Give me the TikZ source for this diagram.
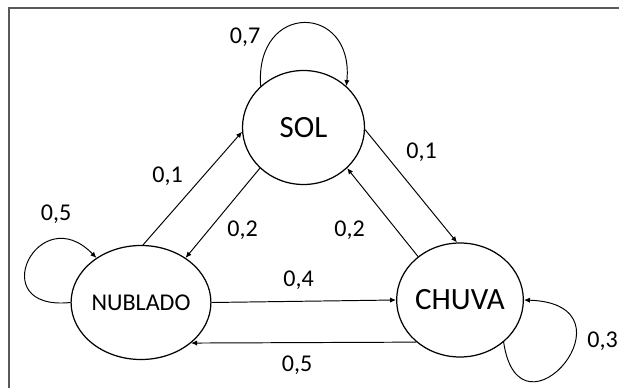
\documentclass[tikz,border=0pt]{standalone}
\usepackage{fontspec}
\setmainfont{Carlito}
\usetikzlibrary{arrows.meta,shapes.geometric}
\definecolor{moldura}{HTML}{595959}

\begin{document}
\begin{tikzpicture}[
  estado/.style={ellipse,draw,line width=0.7pt,minimum width=2.44cm,minimum height=2.28cm,inner sep=0pt},
  seta/.style={-{Latex[length=3.4pt,width=3pt]},line width=0.55pt},
  prob/.style={font=\fontsize{13.7}{16}\selectfont}]
\useasboundingbox (0,0) rectangle (12.38,7.76);
% frame (left and top only)
\draw[moldura,line width=1.1pt] (0.186,0) -- (0.186,7.606) -- (12.38,7.606);
% states
\node[estado,font=\fontsize{17.6}{20}\selectfont] (sol) at (6.07,5.21) {SOL};
\node[estado,font=\fontsize{13.7}{16}\selectfont] (nublado) at (2.82,1.71) {NUBLADO};
\node[estado,font=\fontsize{17.6}{20}\selectfont] (chuva) at (9.20,1.76) {CHUVA};
% transitions between states
\draw[seta] (nublado.88) -- (sol.184);
\draw[seta] (sol.223) -- (nublado.45);
\draw[seta] (sol.358) -- (chuva.93);
\draw[seta] (chuva.134) -- (sol.317);
\draw[seta] (nublado.0) -- (chuva.180);
\draw[seta] (chuva.224) -- (nublado.321);
% self loops
\draw[seta] (sol.136) .. controls +(-0.12,1.70) and +(0.16,1.66) .. (sol.44);
\draw[seta] (nublado.180) .. controls +(-1.76,-0.18) and +(-1.16,1.20) .. (nublado.135);
\draw[seta] (chuva.316) .. controls +(0.32,-2.16) and +(2.36,-0.08) .. (chuva.0);
% probabilities
\node[prob] (p-ss) at (4.90,7.02) {0,7};
\node[prob] (p-ns) at (3.35,4.24) {0,1};
\node[prob] (p-sn) at (4.85,3.15) {0,2};
\node[prob] (p-sc) at (8.43,4.71) {0,1};
\node[prob] (p-cs) at (6.99,3.16) {0,2};
\node[prob] (p-nn) at (1.12,3.48) {0,5};
\node[prob] (p-nc) at (5.97,2.15) {0,4};
\node[prob] (p-cn) at (5.94,0.46) {0,5};
\node[prob] (p-cc) at (12.05,0.93) {0,3};
\end{tikzpicture}
\end{document}
